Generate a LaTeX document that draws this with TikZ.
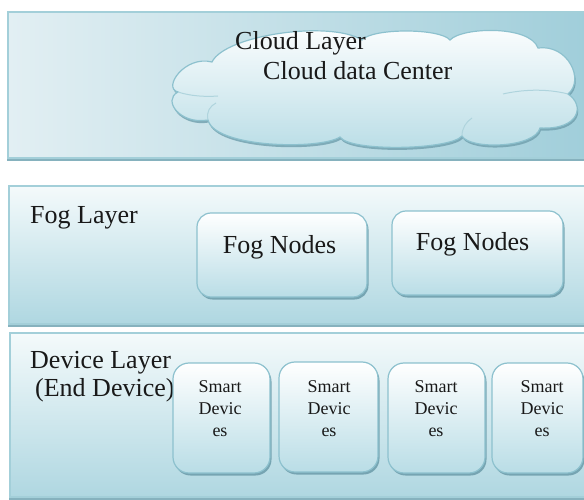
\documentclass[tikz,border=0pt]{standalone}
\usepackage{fontspec}
\setmainfont{Liberation Serif}
\usetikzlibrary{shadows}
\definecolor{layerborder}{HTML}{A3CFD9}
\definecolor{layershadow}{HTML}{86B2BE}
\definecolor{lightbg}{HTML}{F4FAFB}
\definecolor{bluebg}{HTML}{AFD7E1}
\definecolor{cloudleft}{HTML}{E2EFF3}
\definecolor{cloudright}{HTML}{A0CEDA}
\definecolor{boxborder}{HTML}{8DC1CE}
\definecolor{boxshadow}{HTML}{6F9FAD}
\definecolor{boxbottom}{HTML}{B9DDE6}
\tikzset{
  layer/.style={draw=layerborder, line width=1.5pt, inner sep=0pt, outer sep=0pt,
    drop shadow={shadow xshift=-1.5pt, shadow yshift=-3pt, fill=layershadow, opacity=1}},
  vlayer/.style={layer, top color=lightbg, bottom color=bluebg},
  roundbox/.style={draw=boxborder, line width=1.2pt, rounded corners=16pt, inner sep=0pt,
    top color=white, bottom color=boxbottom,
    drop shadow={shadow xshift=1.5pt, shadow yshift=-2.5pt, fill=boxshadow, opacity=0.9}},
  cloudshape/.style={draw=boxborder, line width=1.2pt, top color=white, bottom color=boxbottom,
    drop shadow={shadow xshift=1pt, shadow yshift=-2.5pt, fill=boxshadow, opacity=0.8}},
  innerarc/.style={draw=boxborder!70, line width=1pt},
  bigtext/.style={font=\fontsize{26}{30}\selectfont, inner sep=0pt, text=black!90},
  smalltext/.style={font=\fontsize{18}{22}\selectfont, inner sep=0pt, align=center, text=black!90},
}
\begin{document}
\begin{tikzpicture}[x=1pt,y=-1pt]
\useasboundingbox (0,0) rectangle (584,500);
\clip (0,0) rectangle (584,500);
\fill[white] (0,0) rectangle (584,500);

% Cloud layer
\node[layer, left color=cloudleft, right color=cloudright, minimum width=582pt, minimum height=146pt] (cloudlayer) at (299,85) {};
\path[cloudshape] (178,92)
  .. controls (162,88) and (185,55) .. (212,62)
  .. controls (225,35) and (330,20) .. (362,40)
  .. controls (372,28) and (440,28) .. (450,40)
  .. controls (462,27) and (530,25) .. (538,48)
  .. controls (568,44) and (585,80) .. (568,94)
  .. controls (585,105) and (580,130) .. (540,128)
  .. controls (535,148) and (470,150) .. (462,136)
  .. controls (450,150) and (350,152) .. (340,137)
  .. controls (320,150) and (215,148) .. (208,120)
  .. controls (180,125) and (162,100) .. (178,92) -- cycle;
\path[innerarc] (178,92) .. controls (190,96) and (205,97) .. (218,96);
\path[innerarc] (568,94) .. controls (545,88) and (520,90) .. (503,94);
\path[innerarc] (208,120) .. controls (206,112) and (210,106) .. (216,103);
\path[innerarc] (462,136) .. controls (462,128) and (466,122) .. (472,118);
\node[bigtext, anchor=base west] (cloudtitle) at (235,50) {Cloud Layer};
\node[bigtext, anchor=base west] (cloudcenter) at (263,80) {Cloud data Center};

% Fog layer
\node[vlayer, minimum width=581pt, minimum height=138pt] (foglayer) at (299.5,255) {};
\node[bigtext, anchor=base west] (fogtitle) at (30,223) {Fog Layer};
\node[roundbox, rounded corners=14pt, minimum width=170pt, minimum height=84pt] (fog1) at (282,255) {};
\node[roundbox, rounded corners=14pt, minimum width=171pt, minimum height=84pt] (fog2) at (477.5,253) {};
\node[bigtext, anchor=base] (fog1t) at (279.5,253) {Fog Nodes};
\node[bigtext, anchor=base] (fog2t) at (472.5,251) {Fog Nodes};

% Device layer
\node[vlayer, minimum width=580pt, minimum height=164pt] (devlayer) at (300,415) {};
\node[bigtext, anchor=base west] (devtitle) at (30,368) {Device Layer};
\node[bigtext, anchor=base west] (devsub) at (35,396) {(End Device)};

\node[roundbox, minimum width=97pt, minimum height=110pt] (b1) at (221.5,418) {};
\node[roundbox, minimum width=99pt, minimum height=110pt] (b2) at (328.5,417) {};
\node[roundbox, minimum width=97pt, minimum height=110pt] (b3) at (436.5,418) {};
\node[roundbox, minimum width=91pt, minimum height=110pt] (b4) at (537.5,418) {};
\node[smalltext] (b1t) at (220,409) {Smart\\Devic\\es};
\node[smalltext] (b2t) at (329,409) {Smart\\Devic\\es};
\node[smalltext] (b3t) at (436,409) {Smart\\Devic\\es};
\node[smalltext] (b4t) at (542,409) {Smart\\Devic\\es};
\end{tikzpicture}
\end{document}
